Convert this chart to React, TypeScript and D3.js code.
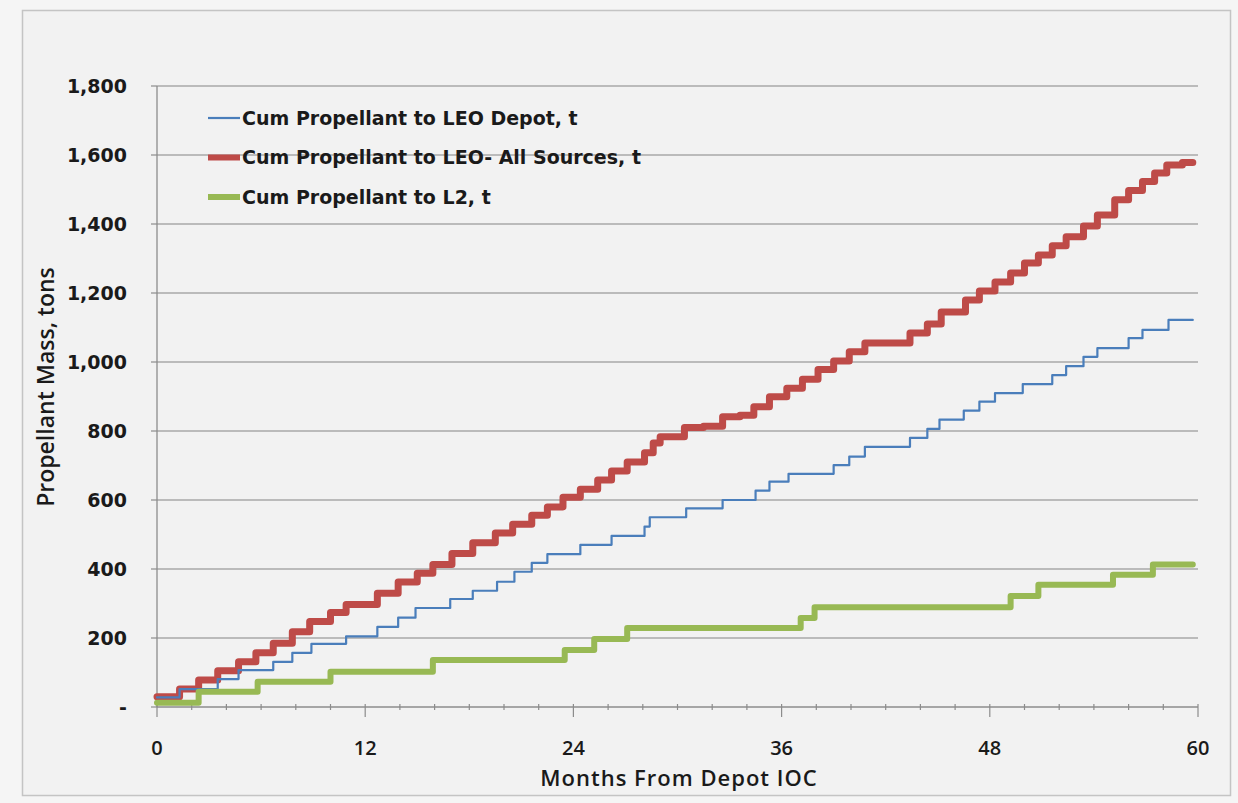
import React from "react";
import * as d3 from "d3";

const X_TICKS = [0, 12, 24, 36, 48, 60];
const X_MINOR = d3.range(0, 61, 2);
const Y_TICKS = [0, 200, 400, 600, 800, 1000, 1200, 1400, 1600, 1800];

const SERIES_NAMES = [
  "Cum Propellant to LEO Depot, t",
  "Cum Propellant to LEO- All Sources, t",
  "Cum Propellant to L2, t",
];

// Red: all sources (month of step, cumulative tons)
const allMonths = [0, 1.3, 2.4, 3.5, 4.7, 5.7, 6.7, 7.8, 8.8, 10.0, 10.9, 12.7, 13.9, 15.0, 15.9, 17.0, 18.2, 19.5, 20.5, 21.6, 22.5, 23.4, 24.4, 25.4, 26.2, 27.1, 28.1, 28.6, 29.0, 30.4, 31.5, 32.6, 33.6, 34.4, 35.3, 36.3, 37.2, 38.1, 39.0, 39.9, 40.8, 43.4, 44.4, 45.2, 46.6, 47.4, 48.3, 49.2, 50.0, 50.8, 51.6, 52.4, 53.4, 54.2, 55.2, 56.0, 56.8, 57.5, 58.2, 59.1, 59.7];
const allValues = [30, 52, 78, 105, 131, 157, 185, 218, 248, 274, 297, 330, 362, 388, 413, 445, 476, 504, 530, 556, 580, 608, 631, 658, 684, 710, 737, 765, 783, 810, 814, 841, 846, 870, 899, 924, 950, 978, 1003, 1030, 1055, 1084, 1110, 1145, 1180, 1206, 1232, 1258, 1287, 1310, 1337, 1363, 1394, 1426, 1470, 1497, 1523, 1548, 1571, 1578, 1578];

// Blue: LEO depot
const depotMonths = [0, 1.3, 3.5, 4.7, 6.7, 7.8, 8.9, 10.9, 12.7, 13.9, 14.9, 16.9, 18.2, 19.6, 20.6, 21.6, 22.5, 24.4, 26.2, 28.1, 28.4, 30.5, 32.6, 34.5, 35.3, 36.4, 39.0, 39.9, 40.8, 43.4, 44.4, 45.1, 46.5, 47.4, 48.3, 49.9, 51.6, 52.4, 53.4, 54.2, 56.0, 56.8, 58.3, 59.7];
const depotValues = [28, 52, 81, 107, 131, 157, 183, 205, 232, 259, 287, 313, 337, 363, 392, 418, 443, 470, 496, 523, 550, 576, 600, 627, 653, 676, 701, 726, 754, 780, 806, 833, 859, 885, 910, 936, 962, 988, 1015, 1040, 1069, 1093, 1122, 1122];

// Green: L2
const l2Months = [0, 2.4, 5.8, 10.0, 15.9, 23.5, 25.2, 27.1, 37.1, 37.9, 49.2, 50.8, 55.1, 57.4, 59.7];
const l2Values = [12, 44, 73, 102, 136, 165, 197, 229, 258, 289, 322, 354, 383, 413, 413];

const COLORS = ["#4a7ebb", "#be4b48", "#98b954"];
const WIDTHS = [2.2, 7, 6];

export default function App() {
  const W = 1238, H = 803;
  const x = d3.scaleLinear().domain([0, 60]).range([157, 1198]);
  const y = d3.scaleLinear().domain([0, 1800]).range([707, 86]);
  const line = d3
    .line<[number, number]>()
    .x((d) => x(d[0]))
    .y((d) => y(d[1]))
    .curve(d3.curveStepAfter);

  const series = [
    { months: depotMonths, values: depotValues },
    { months: allMonths, values: allValues },
    { months: l2Months, values: l2Values },
  ];
  const drawOrder = [1, 0, 2];
  const fmt = d3.format(",");
  const font = "'Open Sans', 'Noto Sans', sans-serif";
  const wide = "'DejaVu Sans', 'Open Sans', sans-serif";

  return (
    <svg width={W} height={H} style={{ position: "absolute", left: 0, top: 0 }} fontFamily={font}>
      <rect x={0} y={0} width={W} height={H} fill="#f5f5f5" />
      <rect x={22.5} y={10.5} width={1208} height={785} fill="#f2f2f2" stroke="#c4c4c4" strokeWidth={1.5} />
      {/* gridlines */}
      {Y_TICKS.filter((t) => t > 0).map((t) => (
        <line key={"g" + t} x1={x(0)} x2={x(60)} y1={y(t)} y2={y(t)} stroke="#a9a9a9" strokeWidth={1.3} />
      ))}
      {/* y axis */}
      <line x1={x(0)} x2={x(0)} y1={y(0)} y2={y(1800)} stroke="#8c8c8c" strokeWidth={1.3} />
      {Y_TICKS.map((t) => (
        <g key={"y" + t}>
          <line x1={x(0) - 6} x2={x(0)} y1={y(t)} y2={y(t)} stroke="#8c8c8c" strokeWidth={1.2} />
          <text x={127} y={y(t)} dy="0.36em" textAnchor="end" fontSize={19} fontWeight={700} fontFamily={wide} fill="#1a1a1a">
            {t === 0 ? "-" : fmt(t)}
          </text>
        </g>
      ))}
      {/* x axis */}
      <line x1={x(0)} x2={x(60)} y1={y(0)} y2={y(0)} stroke="#8c8c8c" strokeWidth={1.3} />
      {X_MINOR.map((m) => (
        <line key={"mx" + m} x1={x(m)} x2={x(m)} y1={y(0) - 3} y2={y(0) + (m % 12 === 0 ? 10 : 3)} stroke="#8c8c8c" strokeWidth={1.2} />
      ))}
      {X_TICKS.map((t) => (
        <text key={"x" + t} x={x(t)} y={755} textAnchor="middle" fontSize={20} fontWeight={600} fill="#1a1a1a">
          {t}
        </text>
      ))}
      <text x={679} y={786} textAnchor="middle" fontSize={22} fontWeight={600} letterSpacing={1} fill="#1a1a1a">
        Months From Depot IOC
      </text>
      <text transform={`translate(54,387) rotate(-90)`} textAnchor="middle" fontSize={23} fontWeight={600} fill="#1a1a1a">
        Propellant Mass, tons
      </text>
      {/* series */}
      {drawOrder.map((i) => {
        const s = series[i];
        const pts = s.months.map((m, k) => [m, s.values[k]] as [number, number]);
        return (
          <path key={"s" + i} d={line(pts) || ""} fill="none" stroke={COLORS[i]} strokeWidth={WIDTHS[i]} strokeLinejoin="round" strokeLinecap="round" />
        );
      })}
      {/* legend */}
      {SERIES_NAMES.map((name, i) => {
        const ly = 118 + i * 39.5;
        return (
          <g key={"l" + i}>
            <line x1={208} x2={240} y1={ly} y2={ly} stroke={COLORS[i]} strokeWidth={i === 0 ? 2.2 : 6} />
            <text x={242} y={ly} dy="0.36em" fontSize={19} fontWeight={700} fontFamily={wide} fill="#1a1a1a">
              {name}
            </text>
          </g>
        );
      })}
    </svg>
  );
}
